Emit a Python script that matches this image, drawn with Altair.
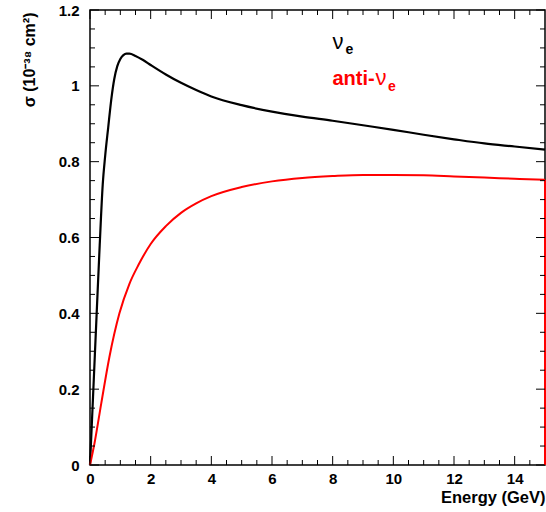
import altair as alt
import pandas as pd

# --- data ---
nu_E = [0, 0.1, 0.22, 0.32, 0.42, 0.5, 0.6, 0.7, 0.8, 0.9, 1.0, 1.1, 1.2, 1.3, 1.5, 1.75,
        2.0, 2.5, 3.0, 3.5, 4.0, 5.0, 6.0, 7.0, 8.0, 9.0, 10.0, 11.0, 12.0, 13.0, 14.0, 15.0]
nu_sigma = [0, 0.18, 0.40, 0.58, 0.74, 0.815, 0.89, 0.963, 1.018, 1.052, 1.071, 1.081, 1.085,
            1.085, 1.079, 1.068, 1.055, 1.030, 1.008, 0.989, 0.972, 0.949, 0.932, 0.919, 0.908,
            0.896, 0.884, 0.871, 0.859, 0.848, 0.840, 0.832]

anti_E = [0, 0.15, 0.37, 0.64, 0.97, 1.3, 1.6, 2.0, 2.5, 3.0, 3.5, 4.0, 5.0, 6.0, 7.0, 8.0,
          9.0, 10.0, 11.0, 12.0, 13.0, 14.0, 15.0]
anti_sigma = [0, 0.058, 0.162, 0.285, 0.40, 0.478, 0.528, 0.583, 0.630, 0.665, 0.690, 0.709,
              0.733, 0.748, 0.757, 0.762, 0.765, 0.765, 0.764, 0.761, 0.758, 0.755, 0.752]

x_label_values = [0, 2, 4, 6, 8, 10, 12, 14]
y_label_values = [0, 0.2, 0.4, 0.6, 0.8, 1.0, 1.2]
x_minor_values = [0.5, 1, 1.5, 2.5, 3, 3.5, 4.5, 5, 5.5, 6.5, 7, 7.5, 8.5, 9, 9.5,
                  10.5, 11, 11.5, 12.5, 13, 13.5, 14.5]
y_minor_values = [0.05, 0.1, 0.15, 0.25, 0.3, 0.35, 0.45, 0.5, 0.55, 0.65, 0.7, 0.75,
                  0.85, 0.9, 0.95, 1.05, 1.1, 1.15]

x_title = "Energy (GeV)"
y_title = "σ (10⁻³⁸ cm²)"

W, H = 455, 455
FONT = "Liberation Sans"

xs = alt.Scale(domain=[0, 15], nice=False, zero=False)
ys = alt.Scale(domain=[0, 1.2], nice=False, zero=False)

nu_df = pd.DataFrame({"E": nu_E, "sigma": nu_sigma, "idx": range(len(nu_E))})
anti_df = pd.DataFrame({"E": anti_E, "sigma": anti_sigma, "idx": range(len(anti_E))})

x_axis = alt.Axis(
    values=x_label_values, format="~g", ticks=False, domain=False, grid=False,
    labelFlush=False, labelOverlap=False,
    labelFont=FONT, labelFontWeight="bold", labelFontSize=15, labelColor="black",
    labelPadding=6, title=x_title, titleFont=FONT, titleFontWeight="bold",
    titleFontSize=16.5, titleColor="black", titleX=W, titleY=37,
    titleAlign="right", titleBaseline="alphabetic")
y_axis = alt.Axis(
    values=y_label_values, format="~g", ticks=False, domain=False, grid=False,
    labelFlush=False, labelOverlap=False,
    labelFont=FONT, labelFontWeight="bold", labelFontSize=15, labelColor="black",
    labelPadding=11, title=y_title, titleFont=FONT, titleFontWeight="bold",
    titleFontSize=16, titleColor="black", titleX=-61, titleY=2, titleAngle=270,
    titleAlign="right", titleBaseline="middle")


def X(field):
    return alt.X(field, scale=xs, axis=x_axis)


def Y(field):
    return alt.Y(field, scale=ys, axis=y_axis)


nu_line = alt.Chart(nu_df).mark_line(
    color="black", strokeWidth=2.2, interpolate="monotone"
).encode(x=X("E:Q"), y=Y("sigma:Q"), order="idx:Q")

anti_line = alt.Chart(anti_df).mark_line(
    color="#ff0000", strokeWidth=2, interpolate="monotone"
).encode(x=X("E:Q"), y=Y("sigma:Q"), order="idx:Q")

anti_drop = alt.Chart(anti_df.tail(1)).mark_rule(color="#ff0000", strokeWidth=2).encode(
    x=X("E:Q"), y=Y("sigma:Q"), y2=alt.datum(0),
)


def xticks(values, length):
    d = pd.DataFrame({"E": values})
    bottom = alt.Chart(d).mark_rule(color="black", strokeWidth=1).encode(
        x=X("E:Q"), y=alt.value(H), y2=alt.value(H - length))
    top = alt.Chart(d).mark_rule(color="black", strokeWidth=1).encode(
        x=X("E:Q"), y=alt.value(0), y2=alt.value(length))
    return [bottom, top]


def yticks(values, length):
    d = pd.DataFrame({"sigma": values})
    left = alt.Chart(d).mark_rule(color="black", strokeWidth=1).encode(
        y=Y("sigma:Q"), x=alt.value(0), x2=alt.value(length))
    right = alt.Chart(d).mark_rule(color="black", strokeWidth=1).encode(
        y=Y("sigma:Q"), x=alt.value(W - length), x2=alt.value(W))
    return [left, right]


tick_layers = (xticks(x_label_values, 9) + xticks(x_minor_values, 5)
               + yticks(y_label_values, 9) + yticks(y_minor_values, 5))


def label(text, px, py, size, weight, color):
    return alt.Chart(pd.DataFrame({"t": [text]})).mark_text(
        align="left", baseline="alphabetic", font=FONT, fontSize=size,
        fontWeight=weight, color=color
    ).encode(text="t:N", x=alt.value(px), y=alt.value(py))


legend_layers = [
    label("ν", 242.5, 39, 22, "normal", "black"),
    label("e", 255.5, 44, 14, "bold", "black"),
    label("anti-", 242.5, 75, 20, "bold", "#ff0000"),
    label("ν", 285.5, 75, 22, "normal", "#ff0000"),
    label("e", 298, 81, 14, "bold", "#ff0000"),
]

chart = alt.layer(
    nu_line, anti_line, anti_drop, *tick_layers, *legend_layers
).properties(
    width=W, height=H,
    autosize=alt.AutoSizeParams(type="none"),
    padding={"left": 90, "top": 10, "right": 1, "bottom": 47},
    background="white",
).configure_view(
    stroke="black", strokeWidth=1.5, fill="white"
)

chart.save("out.html", embed_options={"renderer": "svg", "actions": False})
